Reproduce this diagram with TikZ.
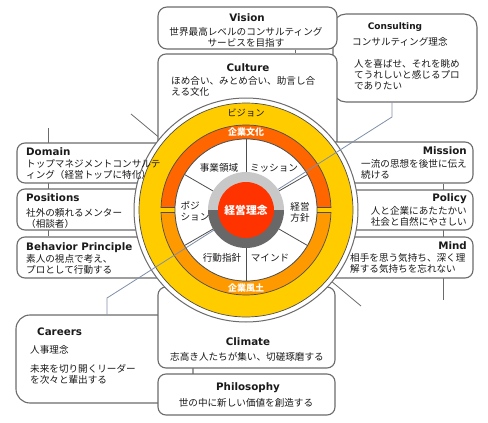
\documentclass[tikz,border=0pt]{standalone}
\usepackage{fontspec}
\setmainfont{DejaVu Sans}
\newfontfamily\jp{Noto Sans CJK JP}
\usetikzlibrary{calc}
\pgfdeclarelayer{bg}
\pgfsetlayers{bg,main}
\definecolor{boxline}{HTML}{6B6B6B}
\definecolor{ringline}{HTML}{4D4D4D}
\definecolor{ylw}{HTML}{FFCC00}
\definecolor{orgA}{HTML}{FF6600}
\definecolor{orgB}{HTML}{FF9900}
\definecolor{redc}{HTML}{FF3300}
\definecolor{lgr}{HTML}{C8C8C8}
\definecolor{dgr}{HTML}{686868}
\definecolor{blu}{HTML}{7F8FA8}
\definecolor{txt}{HTML}{1A1A1A}
\begin{document}
\begin{tikzpicture}[x=1pt,y=-1pt,
  box/.style={draw=boxline,line width=1.1pt,fill=white,rounded corners=8pt,rectangle,inner sep=0pt},
  jt/.style={font=\jp\fontsize{9.6}{11}\selectfont,inner sep=0pt,text=txt},
  ht/.style={font=\bfseries\fontsize{10.3}{12}\selectfont,inner sep=0pt,text=txt},
  gline/.style={draw=boxline,line width=0.8pt},
  bline/.style={draw=blu,line width=0.8pt},
  spoke/.style={draw=ringline,line width=0.8pt},
  wl/.style={font=\jp\bfseries\fontsize{9}{10}\selectfont,text=white,inner sep=0pt},
]
\useasboundingbox (0,0) rectangle (488,423);

\coordinate (tl) at (131,114);
\coordinate (br) at (361,306);
\coordinate (lx) at (48,128);
\coordinate (rx) at (443,300);
\coordinate (bt) at (392,117);
\coordinate (bb) at (107,298);
\coordinate (vx) at (295,0);

% boxes
\node[box,rounded corners=13pt,minimum width=144pt,minimum height=88pt] (consulting) at (405,58) {};
\node[box,rounded corners=14pt,minimum width=177pt,minimum height=88pt] (careers) at (104.5,359) {};
\node[box,rounded corners=9pt,minimum width=179pt,minimum height=42pt] (vision) at (247.5,28) {};
\node[box,minimum width=179pt,minimum height=106pt] (culture) at (247.5,107) {};
\node[box,minimum width=193pt,minimum height=40pt] (domain) at (113.5,163) {};
\node[box,minimum width=193pt,minimum height=41pt] (positions) at (113.5,209.5) {};
\node[box,minimum width=193pt,minimum height=41pt] (behavior) at (113.5,257.5) {};
\node[box,minimum width=188pt,minimum height=41pt] (mission) at (379,162.5) {};
\node[box,minimum width=188pt,minimum height=40pt] (policy) at (379,210) {};
\node[box,minimum width=188pt,minimum height=41pt] (mind) at (379,257.5) {};
\node[box,minimum width=177pt,minimum height=81pt] (climate) at (246.5,327.5) {};
\node[box,minimum width=177pt,minimum height=41pt] (philosophy) at (246.5,394.5) {};

% lines beneath the boxes
\begin{pgfonlayer}{bg}
  \draw[gline] (vision.south -| vx) -- (culture.north -| vx);
  \draw[gline] (behavior.north -| lx) -- (lx);
  \draw[gline] (mission.south -| rx) -- (rx);
  \draw[gline] (tl) -- (br);
\end{pgfonlayer}

% central circle
\begin{scope}[shift={(246,210)}]
  \node[circle,draw=boxline,line width=1pt,fill=white,minimum size=224pt,inner sep=0pt] (outer) at (0,0) {};
  \node[circle,draw=ringline,line width=0.7pt,fill=ylw,minimum size=214pt,inner sep=0pt] (vring) at (0,0) {};
  \path[fill=orgA,draw=ringline,line width=0.7pt] (181.7:85) arc[start angle=181.7,end angle=358.3,radius=85] -- (358:71) arc[start angle=358,end angle=182,radius=71] -- cycle;
  \path[fill=orgB,draw=ringline,line width=0.7pt] (1.7:85) arc[start angle=1.7,end angle=178.3,radius=85] -- (178:71) arc[start angle=178,end angle=2,radius=71] -- cycle;
  \node[circle,draw=ringline,line width=0.7pt,fill=white,minimum size=142pt,inner sep=0pt] (seg) at (0,0) {};
  \foreach \a in {30,90,150,210,270,330} \draw[spoke] (\a:38) -- (\a:71);
\end{scope}

\draw[bline] (consulting.south -| bt) -- (bt) -- (bb) -- (careers.north -| bb);

\begin{scope}[shift={(246,210)}]
  \fill[lgr] (180:38) arc[start angle=180,end angle=360,radius=38] -- cycle;
  \fill[dgr] (0:38) arc[start angle=0,end angle=180,radius=38] -- cycle;
  \node[circle,fill=redc,minimum size=56pt,inner sep=0pt] (core) at (0,0) {};
  \node[font=\jp\bfseries\fontsize{10.8}{13}\selectfont,text=white,inner sep=0pt] (c-rinen) at (0,0) {経営理念};
  \node[jt] (c-jigyo) at (-27,-42) {事業領域};
  \node[jt] (c-mission) at (28,-42) {ミッション};
  \node[jt,align=center] (c-keiei) at (54,2) {経営\\方針};
  \node[jt,align=left] (c-pos) at (-51,1) {ポジ\\ション};
  \node[jt] (c-kodo) at (-24,48) {行動指針};
  \node[jt] (c-mind) at (24,48) {マインド};
  \node[jt,font=\jp\fontsize{9.3}{11}\selectfont] (c-vis) at (0,-97) {ビジョン};
  \node[wl] (c-bunka) at (0,-78) {企業文化};
  \node[wl] (c-fudo) at (0,78) {企業風土};
\end{scope}

% texts
\node[ht,anchor=base] (t-vision) at (247,21) {Vision};
\node[jt,align=center] (d-vision) at (246,37) {世界最高レベルのコンサルティング\\サービスを目指す};
\node[ht,anchor=base] (t-culture) at (248,71) {Culture};
\node[jt,align=left,anchor=west] (d-culture) at (171,86.5) {ほめ合い、みとめ合い、助言し合\\える文化};
\node[ht,anchor=base,font=\bfseries\fontsize{9}{11}\selectfont] (t-consulting) at (395,29.5) {Consulting};
\node[jt,anchor=west] (s-consulting) at (352,42) {コンサルティング理念};
\node[jt,align=left,anchor=west] (d-consulting) at (354,74.5) {人を喜ばせ、それを眺め\\てうれしいと感じるプロ\\でありたい};

\node[ht,anchor=base west] (t-domain) at (26,155.8) {Domain};
\node[jt,align=left,anchor=west] (d-domain) at (26,169.5) {トップマネジメントコンサルテ\\ィング（経営トップに特化）};
\node[ht,anchor=base west] (t-positions) at (26,201.8) {Positions};
\node[jt,align=left,anchor=west] (d-positions) at (26,218) {社外の頼れるメンター\\（相談者）};
\node[ht,anchor=base west] (t-behavior) at (26,250.8) {Behavior Principle};
\node[jt,align=left,anchor=west] (d-behavior) at (26,264) {素人の視点で考え、\\プロとして行動する};

\node[ht,anchor=base east] (t-mission) at (467,154.8) {Mission};
\node[jt,align=left,anchor=west] (d-mission) at (361,169.5) {一流の思想を後世に伝え\\続ける};
\node[ht,anchor=base east] (t-policy) at (467,201.8) {Policy};
\node[jt,align=right,anchor=east] (d-policy) at (467,216) {人と企業にあたたかい\\社会と自然にやさしい};
\node[ht,anchor=base east] (t-mind) at (467,249.8) {Mind};
\node[jt,align=left,anchor=west] (d-mind) at (350,263) {相手を思う気持ち、深く理\\解する気持ちを忘れない};

\node[ht,anchor=base west] (t-careers) at (37,335.8) {Careers};
\node[jt,anchor=west] (s-careers) at (30,350) {人事理念};
\node[jt,align=left,anchor=west] (d-careers) at (30,374) {未来を切り開くリーダー\\を次々と輩出する};

\node[ht,anchor=base] (t-climate) at (248,345.8) {Climate};
\node[jt] (d-climate) at (247,357) {志高き人たちが集い、切磋琢磨する};
\node[ht,anchor=base] (t-philosophy) at (248,390.8) {Philosophy};
\node[jt] (d-philosophy) at (246,403) {世の中に新しい価値を創造する};
\end{tikzpicture}
\end{document}
